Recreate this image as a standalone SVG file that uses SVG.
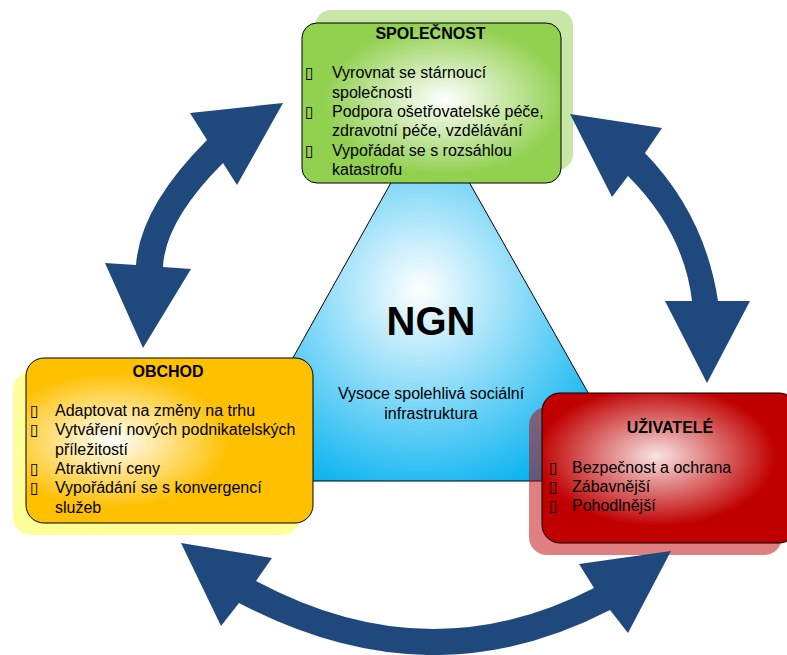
<svg xmlns="http://www.w3.org/2000/svg" width="787" height="655" viewBox="0 0 787 655">
<defs>
<radialGradient id="gTri" cx="420" cy="290" r="250" gradientUnits="userSpaceOnUse">
<stop offset="0" stop-color="#FFFFFF"/>
<stop offset="0.9" stop-color="#00B0F0"/>
<stop offset="1" stop-color="#00B0F0"/>
</radialGradient>
<radialGradient id="gGreen" cx="0.55" cy="0.48" r="0.55">
<stop offset="0" stop-color="#FFFFFF"/>
<stop offset="0.85" stop-color="#92D050"/>
<stop offset="1" stop-color="#92D050"/>
</radialGradient>
<radialGradient id="gOrange" cx="0.3" cy="0.5" r="0.55">
<stop offset="0" stop-color="#FFFFFF"/>
<stop offset="0.75" stop-color="#FFC000"/>
<stop offset="1" stop-color="#FFC000"/>
</radialGradient>
<radialGradient id="gRed" cx="0.45" cy="0.42" r="0.55">
<stop offset="0" stop-color="#F8E4E4"/>
<stop offset="0.85" stop-color="#C00000"/>
<stop offset="1" stop-color="#C00000"/>
</radialGradient>
</defs>
<style>
.t{font-family:"Liberation Sans",Arial,sans-serif;font-size:16px;fill:#000}
.h{font-family:"Liberation Sans",Arial,sans-serif;font-size:16px;font-weight:bold;fill:#000;text-anchor:middle}
.b{font-family:"DejaVu Sans",sans-serif;font-size:16px;fill:#000}
.box{stroke:#000;stroke-width:1}
.arrow{fill:#1F497D;stroke:none}
</style>

<g id="ngn">
<polygon points="430,113 224,481 638,481" fill="url(#gTri)" stroke="#000" stroke-width="1"/>
<text x="431" y="335" style="font-family:'Liberation Sans',Arial,sans-serif;font-size:40px;font-weight:bold;text-anchor:middle">NGN</text>
<text x="431" y="399" class="t" text-anchor="middle">Vysoce spolehlivá sociální</text>
<text x="431" y="419" class="t" text-anchor="middle">infrastruktura</text>
</g>

<g id="spolecnost">
<rect x="315" y="10" width="258" height="160" rx="16" fill="#92D050" opacity="0.5"/>
<rect x="302" y="23" width="259" height="160" rx="15" fill="url(#gGreen)" class="box"/>
<text x="430.5" y="38.5" class="h">SPOLEČNOST</text>
<text x="305" y="78.3" class="b">▯</text>
<text x="332" y="78.3" class="t">Vyrovnat se stárnoucí</text>
<text x="332" y="97.6" class="t">společnosti</text>
<text x="305" y="116.9" class="b">▯</text>
<text x="332" y="116.9" class="t">Podpora ošetřovatelské péče,</text>
<text x="332" y="136.2" class="t">zdravotní péče, vzdělávání</text>
<text x="305" y="155.5" class="b">▯</text>
<text x="332" y="155.5" class="t">Vypořádat se s rozsáhlou</text>
<text x="332" y="174.8" class="t">katastrofu</text>
</g>

<g id="obchod">
<rect x="13" y="372" width="287" height="163" rx="18" fill="#FFFF99"/>
<rect x="26" y="358" width="287" height="165" rx="18" fill="url(#gOrange)" class="box"/>
<text x="168" y="377" class="h">OBCHOD</text>
<text x="30" y="416" class="b">▯</text>
<text x="55" y="416" class="t">Adaptovat na změny na trhu</text>
<text x="30" y="435.3" class="b">▯</text>
<text x="55" y="435.3" class="t">Vytváření nových podnikatelských</text>
<text x="55" y="454.6" class="t">příležitostí</text>
<text x="30" y="473.9" class="b">▯</text>
<text x="55" y="473.9" class="t">Atraktivní ceny</text>
<text x="30" y="493.2" class="b">▯</text>
<text x="55" y="493.2" class="t">Vypořádání se s konvergencí</text>
<text x="55" y="512.5" class="t">služeb</text>
</g>

<g id="uzivatele">
<rect x="529" y="407" width="253" height="148" rx="18" fill="#C00000" opacity="0.5"/>
<rect x="542" y="393" width="255" height="150" rx="18" fill="url(#gRed)" class="box"/>
<text x="670" y="433" class="h">UŽIVATELÉ</text>
<text x="549" y="472.7" class="b">▯</text>
<text x="572" y="472.7" class="t">Bezpečnost a ochrana</text>
<text x="549" y="492" class="b">▯</text>
<text x="572" y="492" class="t">Zábavnější</text>
<text x="549" y="511.3" class="b">▯</text>
<text x="572" y="511.3" class="t">Pohodlnější</text>
</g>

<g id="connectors">
<path class="arrow" d="M283,103 L237,185 L223,163 Q165,221 163,267 L191,269 L143,348 L105,263 L136,265 Q140,207 207,140 L190,113 Z"/>
<path class="arrow" d="M570,114 L662,128 L645,153 Q705,215 718,301 L750,301 L707,383 L665,301 L692,301 Q684,232 628,176 L612,197 Z"/>
<path class="arrow" d="M181,543 L272,558 L256,581 Q429,673.5 594,588 L579,564 L671,551 L628,633 L610,610 Q429.5,703.5 239,603 L221,626 Z"/>
</g>
</svg>
